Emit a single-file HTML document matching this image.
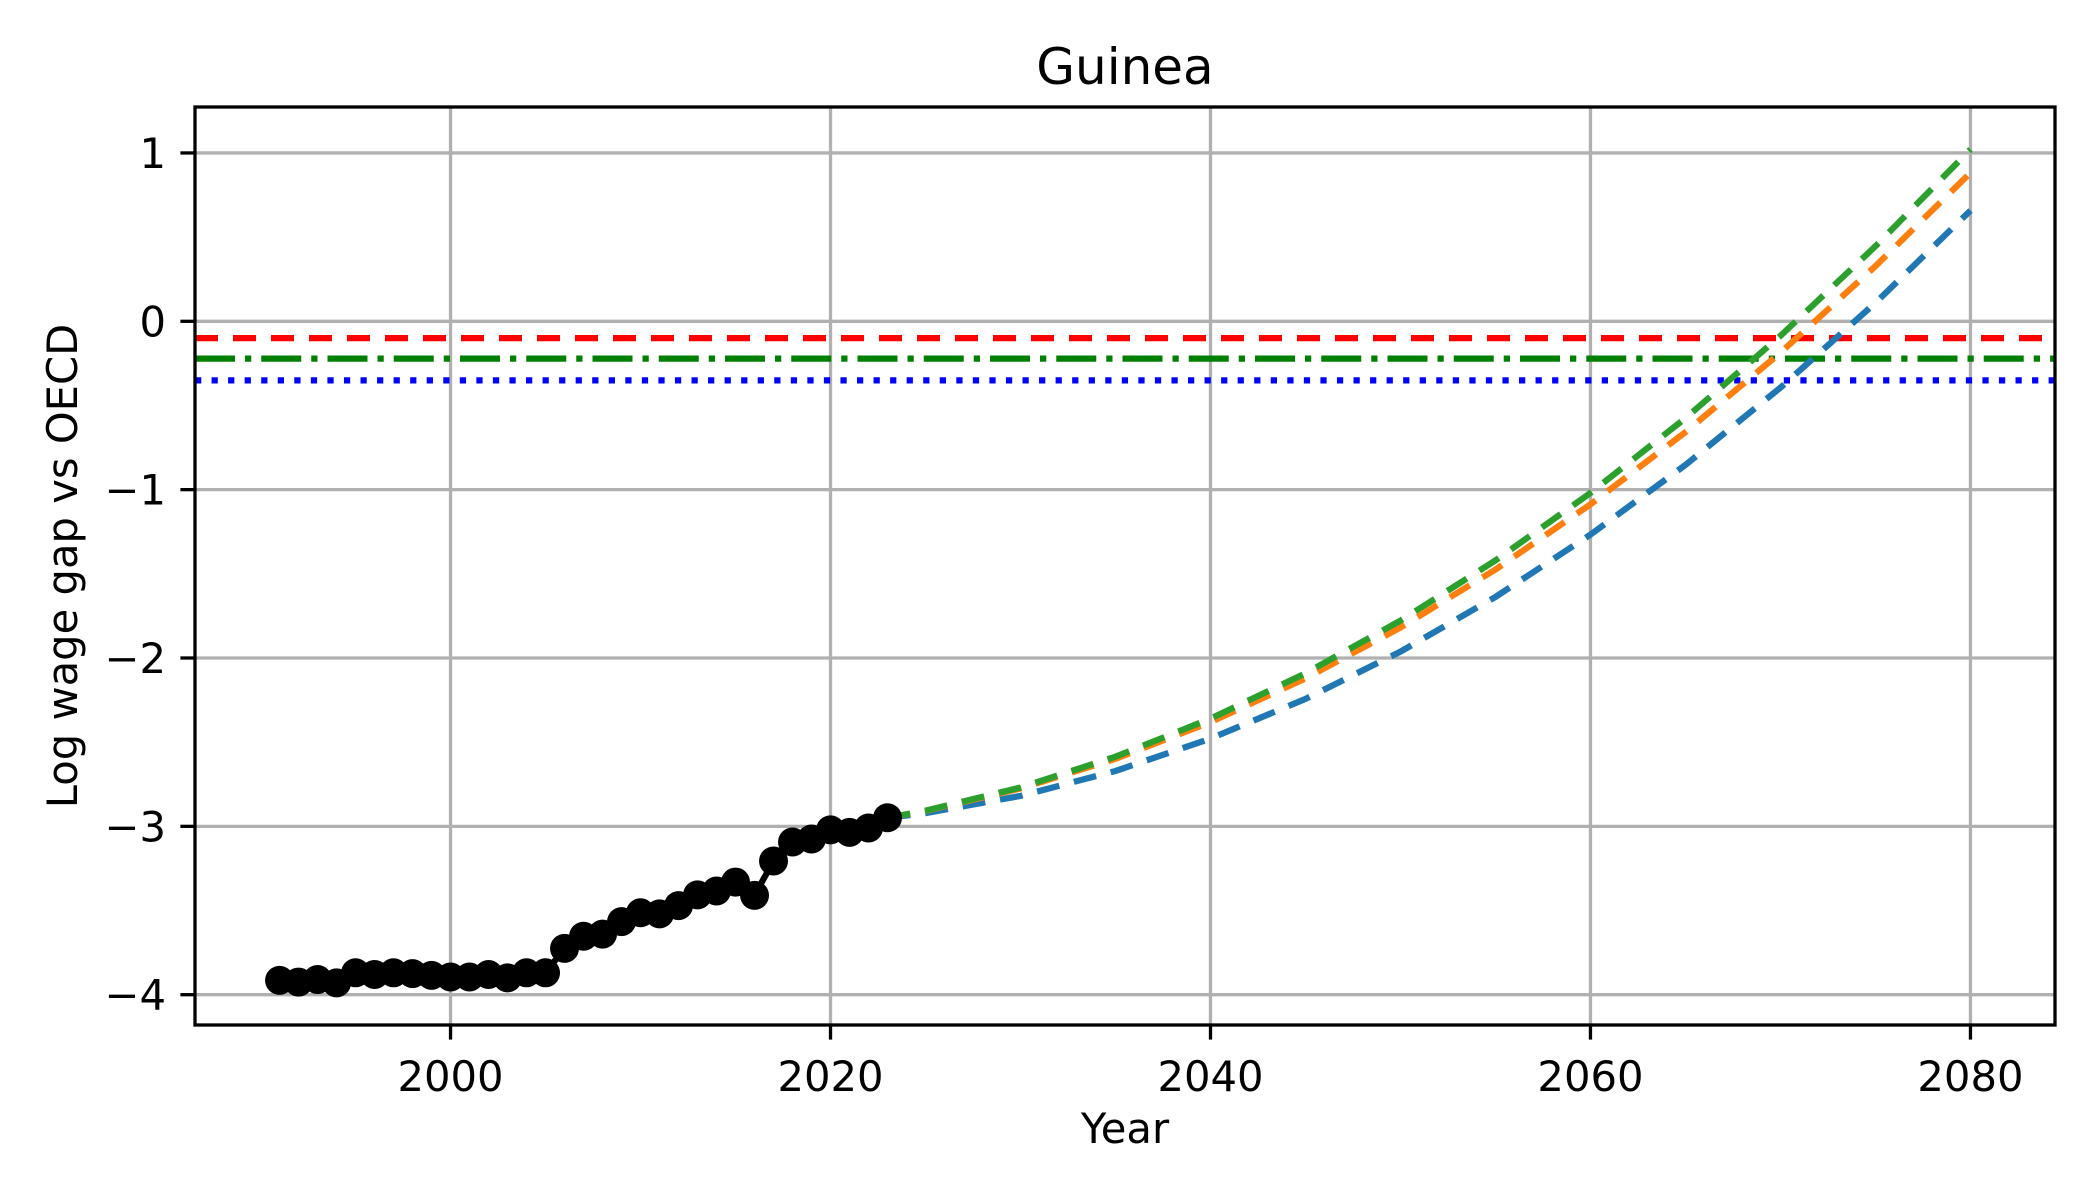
<!DOCTYPE html>
<html><head><meta charset="utf-8"><style>
html,body{margin:0;padding:0;background:#fff;}
svg{display:block;font-family:"DejaVu Sans","Liberation Sans",sans-serif;}
</style></head><body>
<svg id="chart" width="2100" height="1200" viewBox="0 0 2100 1200">
<rect width="2100" height="1200" fill="#fff"/>
<g id="grid"></g>
<g id="plot"></g>
<rect x="195" y="107" width="1860" height="918" fill="none" stroke="#000" stroke-width="3.3"/>
<g id="axes"></g>
<text x="1125" y="84" font-size="50" text-anchor="middle">Guinea</text>
<text x="1125" y="1143" font-size="41.7" text-anchor="middle">Year</text>
<text x="0" y="0" font-size="41.7" text-anchor="middle" transform="translate(77,566) rotate(-90)">Log wage gap vs OECD</text>
</svg>
<script>
const histYears = [1991,1992,1993,1994,1995,1996,1997,1998,1999,2000,2001,2002,2003,2004,2005,2006,2007,2008,2009,2010,2011,2012,2013,2014,2015,2016,2017,2018,2019,2020,2021,2022,2023];
const histValues = [-3.915,-3.925,-3.91,-3.93,-3.87,-3.88,-3.87,-3.875,-3.885,-3.895,-3.895,-3.88,-3.90,-3.87,-3.87,-3.725,-3.653,-3.64,-3.566,-3.513,-3.52,-3.471,-3.407,-3.384,-3.331,-3.41,-3.206,-3.093,-3.075,-3.021,-3.036,-3.01,-2.949];
const projYears = [2023,2025,2030,2035,2040,2045,2050,2055,2060,2065,2070,2075,2080];
const projBlue = [-2.949,-2.921,-2.819,-2.671,-2.479,-2.243,-1.962,-1.637,-1.267,-0.853,-0.394,0.110,0.658];
const projOrange = [-2.949,-2.908,-2.775,-2.599,-2.381,-2.121,-1.819,-1.474,-1.087,-0.658,-0.186,0.328,0.883];
const projGreen = [-2.949,-2.907,-2.769,-2.586,-2.36,-2.091,-1.778,-1.420,-1.019,-0.575,-0.086,0.446,1.022];
const refRed = -0.10, refGreen = -0.222, refBlue = -0.351;
const xTicks = [2000,2020,2040,2060,2080];
const yTicks = [1,0,-1,-2,-3,-4];

const NS = "http://www.w3.org/2000/svg";
const X0 = 195, X1 = 2055, Y0 = 107, Y1 = 1025;
const xMin = 1986.55, xMax = 2084.45, yMin = -4.18, yMax = 1.273;
function xs(v){ return X0 + (v - xMin) / (xMax - xMin) * (X1 - X0); }
function ys(v){ return Y1 - (v - yMin) / (yMax - yMin) * (Y1 - Y0); }
function mk(tag, attrs, parent){ const e = document.createElementNS(NS, tag); for (const k in attrs) e.setAttribute(k, attrs[k]); parent.appendChild(e); return e; }
const grid = document.getElementById('grid'), plot = document.getElementById('plot'), axes = document.getElementById('axes');

xTicks.forEach(t => {
  const x = xs(t);
  const g = mk('line', {x1:x, x2:x, y1:Y0, y2:Y1, stroke:'#b0b0b0', 'stroke-width':3.3}, grid);
  
  
  const tk = mk('line', {x1:x, x2:x, y1:Y1, y2:Y1+14.6, stroke:'#000', 'stroke-width':3.3}, axes);
  
  
  const lb = mk('text', {x:x, y:1091, 'font-size':41.7, 'text-anchor':'middle'}, axes);
  lb.textContent = String(t);
  
  
});
yTicks.forEach(t => {
  const y = ys(t);
  const g = mk('line', {x1:X0, x2:X1, y1:y, y2:y, stroke:'#b0b0b0', 'stroke-width':3.3}, grid);
  
  
  const tk = mk('line', {x1:X0-14.6, x2:X0, y1:y, y2:y, stroke:'#000', 'stroke-width':3.3}, axes);
  
  
  const lb = mk('text', {x:166, y:y+15, 'font-size':41.7, 'text-anchor':'end'}, axes);
  lb.textContent = t < 0 ? '\u2212' + Math.abs(t) : String(t);
  
  
});

const clip = mk('clipPath', {id:'clip'}, mk('defs', {}, plot));
mk('rect', {x:X0, y:Y0, width:X1-X0, height:Y1-Y0}, clip);

function hline(v, color, dash, name){
  const l = mk('line', {x1:X0, x2:X1, y1:ys(v), y2:ys(v), stroke:color, 'stroke-width':6.25, 'stroke-dasharray':dash}, plot);
  
  
}
hline(refRed, '#ff0000', '23 15', 'red-reference-line');
hline(refGreen, '#008000', '40 10 6.25 10', 'green-reference-line');
hline(refBlue, '#0000ff', '6.25 10.3', 'blue-reference-line');

function proj(vals, color, name){
  const pts = projYears.map((yr, i) => xs(yr).toFixed(1) + ',' + ys(vals[i]).toFixed(1)).join(' ');
  const p = mk('polyline', {points:pts, fill:'none', stroke:color, 'stroke-width':6.25, 'stroke-dasharray':'23 15', 'clip-path':'url(#clip)'}, plot);
  
  
}
proj(projBlue, '#1f77b4', 'projection-blue');
proj(projOrange, '#ff7f0e', 'projection-orange');
proj(projGreen, '#2ca02c', 'projection-green');

const hp = histYears.map((yr, i) => xs(yr).toFixed(1) + ',' + ys(histValues[i]).toFixed(1)).join(' ');
const hl = mk('polyline', {points:hp, fill:'none', stroke:'#000', 'stroke-width':6.25}, plot);


histYears.forEach((yr, i) => {
  const c = mk('circle', {cx:xs(yr), cy:ys(histValues[i]), r:14.5, fill:'#000'}, plot);
  
  
});
</script>
</body></html>
